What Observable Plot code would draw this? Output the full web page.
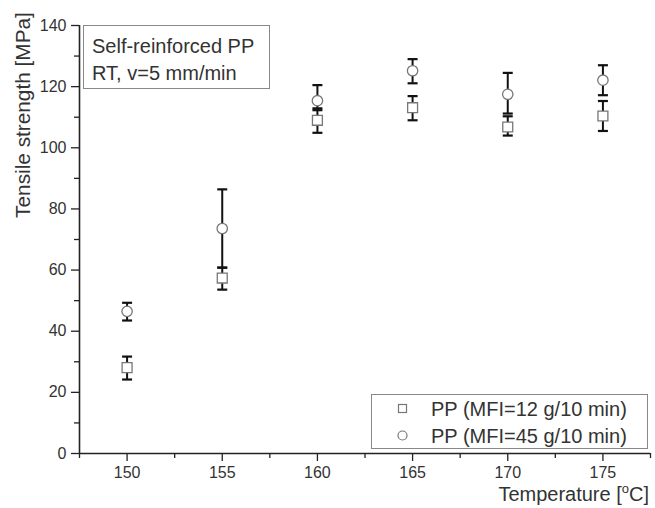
<!DOCTYPE html>
<html>
<head>
<meta charset="utf-8">
<script src="https://cdn.jsdelivr.net/npm/d3@7"></script>
<script src="https://cdn.jsdelivr.net/npm/@observablehq/plot@0.6"></script>
<style>
  body { margin: 0; background: #fff; }
  #wrap { position: relative; width: 655px; height: 508px; font-family: "Liberation Sans", Arial, sans-serif; color: #333; }
  .box { position: absolute; border: 1px solid #888; background: #fff; box-sizing: border-box; }
  .t { position: absolute; white-space: nowrap; }
</style>
</head>
<body>
<div id="wrap"></div>
<script>
const temps   = [150, 155, 160, 165, 170, 175];
const mfi12   = [28.1, 57.4, 109.0, 113.1, 106.8, 110.4];
const mfi12Lo = [24.2, 53.6, 104.9, 109.0, 104.0, 105.5];
const mfi12Hi = [31.7, 60.8, 112.3, 116.9, 110.3, 115.3];
const mfi45   = [46.5, 73.6, 115.4, 125.2, 117.5, 122.1];
const mfi45Lo = [43.5, 60.8, 112.9, 121.1, 111.2, 117.2];
const mfi45Hi = [49.3, 86.4, 120.5, 129.0, 124.5, 127.0];
const seriesNames = ["PP (MFI=12 g/10 min)", "PP (MFI=45 g/10 min)"];
const xTicks = [150, 155, 160, 165, 170, 175];
const xMinor = [147.5, 152.5, 157.5, 162.5, 167.5, 172.5, 177.5];
const yTicks = [0, 20, 40, 60, 80, 100, 120, 140];
const yMinor = [10, 30, 50, 70, 90, 110, 130];

const rows = [];
temps.forEach((t, i) => {
  rows.push({s: seriesNames[0], t, v: mfi12[i], lo: mfi12Lo[i], hi: mfi12Hi[i]});
  rows.push({s: seriesNames[1], t, v: mfi45[i], lo: mfi45Lo[i], hi: mfi45Hi[i]});
});
const sq = rows.filter(d => d.s === seriesNames[0]);
const ci = rows.filter(d => d.s === seriesNames[1]);

const cap = { draw(ctx) { ctx.moveTo(-5, 0); ctx.lineTo(5, 0); } };

const chart = Plot.plot({
  width: 655, height: 508,
  marginLeft: 79, marginRight: 5, marginTop: 25, marginBottom: 55,
  style: { fontFamily: "Liberation Sans, Arial, sans-serif", fontSize: "16px", color: "#222", background: "#fff" },
  x: { domain: [147.5, 177.5] },
  y: { domain: [0, 140] },
  marks: [
    Plot.axisY({ ticks: yTicks, tickSize: 8, tickPadding: 5, label: null, stroke: "#222", strokeWidth: 1.3, fill: "#333" }),
    Plot.axisY({ ticks: yMinor, tickSize: 5, text: null, label: null, stroke: "#222", strokeWidth: 1.3 }),
    Plot.axisX({ ticks: xTicks, tickSize: 8, tickPadding: 5, label: null, stroke: "#222", strokeWidth: 1.3, fill: "#333" }),
    Plot.axisX({ ticks: xMinor, tickSize: 5, text: null, label: null, stroke: "#222", strokeWidth: 1.3 }),
    Plot.ruleY([0], { stroke: "#222", strokeWidth: 1.6 }),
    Plot.ruleX([147.5], { stroke: "#222", strokeWidth: 1.6 }),
    Plot.ruleX(rows, { x: "t", y1: "lo", y2: "hi", stroke: "#111", strokeWidth: 2 }),
    Plot.dot(rows, { x: "t", y: "lo", symbol: cap, stroke: "#111", strokeWidth: 2.2 }),
    Plot.dot(rows, { x: "t", y: "hi", symbol: cap, stroke: "#111", strokeWidth: 2.2 }),
    Plot.dot(sq, { x: "t", y: "v", symbol: "square", r: 5.6, fill: "#fff", stroke: "#777", strokeWidth: 1.3 }),
    Plot.dot(ci, { x: "t", y: "v", symbol: "circle", r: 5.2, fill: "#fff", stroke: "#777", strokeWidth: 1.3 })
  ]
});

const wrap = document.getElementById("wrap");
wrap.appendChild(chart);

wrap.insertAdjacentHTML("beforeend", `
  <div class="box" style="left:83px;top:25px;width:187px;height:64px;"></div>
  <div class="t" style="left:92px;top:33px;font-size:20px;line-height:27px;color:#333;">Self-reinforced PP<br>RT, v=5 mm/min</div>
  <div class="box" style="left:371px;top:394px;width:277px;height:55px;"></div>
  <svg style="position:absolute;left:396px;top:402px;" width="14" height="42">
    <rect x="2.5" y="2.5" width="8" height="8" fill="#fff" stroke="#777" stroke-width="1.2"/>
    <circle cx="6.5" cy="33.5" r="4.5" fill="#fff" stroke="#777" stroke-width="1.2"/>
  </svg>
  <div class="t" style="left:431px;top:396px;font-size:20px;line-height:27px;color:#333;">${seriesNames[0]}<br>${seriesNames[1]}</div>
  <div class="t" style="right:6px;top:483px;font-size:20px;line-height:23px;color:#333;">Temperature [<sup style="font-size:13px;vertical-align:8px;line-height:0">o</sup>C]</div>
  <div class="t" style="left:22px;top:115px;font-size:20.8px;line-height:23px;color:#333;transform:translate(-50%,-50%) rotate(-90deg);transform-origin:center;">Tensile strength [MPa]</div>
`);
</script>
</body>
</html>
